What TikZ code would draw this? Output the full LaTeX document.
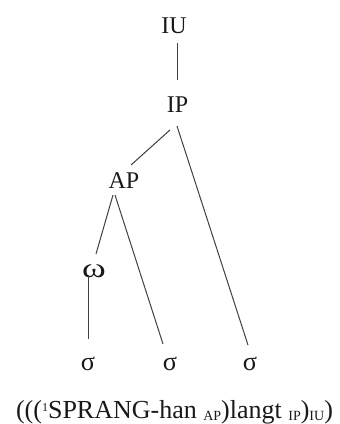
\documentclass[tikz,border=0pt]{standalone}
\usepackage{fontspec}
\setmainfont{Liberation Serif}
\usetikzlibrary{calc}
\newcommand{\lowsub}[1]{\raisebox{-2pt}{\fontsize{14}{14}\selectfont #1}}
\newcommand{\highsup}[1]{\raisebox{7pt}{\fontsize{12}{12}\selectfont #1}}
\begin{document}
\begin{tikzpicture}[x=1pt,y=-1pt,
  lab/.style={anchor=base,inner sep=0pt,font=\fontsize{24}{24}\selectfont,text=black!90},
  edge/.style={draw=black!75,line width=1pt}]
\useasboundingbox (0,0) rectangle (340,424);
\node[lab] (IU) at (174,33) {IU};
\node[lab] (IP) at (177.5,112) {IP};
\node[lab] (AP) at (124,188) {AP};
\node[lab] (W) at (94,277) {\scalebox{1.5}[1.15]{ω}};
\node[lab] (S1) at (88,370) {\scalebox{1.1}{σ}};
\node[lab] (S2) at (170,370) {\scalebox{1.1}{σ}};
\node[lab] (S3) at (250,370) {\scalebox{1.1}{σ}};
\node[lab,font=\fontsize{26}{26}\selectfont] (T) at (174.5,418)
  {(((\highsup{1}SPRANG-han \lowsub{AP})langt \lowsub{IP})\lowsub{IU})};
\draw[edge] ($(IU.base)+(3,10)$) -- ($(IP.base)+(-0.5,-32)$);
\draw[edge] ($(IP.base)+(-7.5,18)$) -- ($(AP.base)+(7,-23)$);
\draw[edge] ($(IP.base)+(-0.5,14)$) -- ($(S3.base)+(-2,-25)$);
\draw[edge] ($(AP.base)+(-11,7)$) -- ($(W.base)+(2,-23)$);
\draw[edge] ($(AP.base)+(-9,7)$) -- ($(S2.base)+(-7,-26)$);
\draw[edge] ($(W.base)+(-6,-2)$) -- ($(S1.base)+(0,-31)$);
\end{tikzpicture}
\end{document}
